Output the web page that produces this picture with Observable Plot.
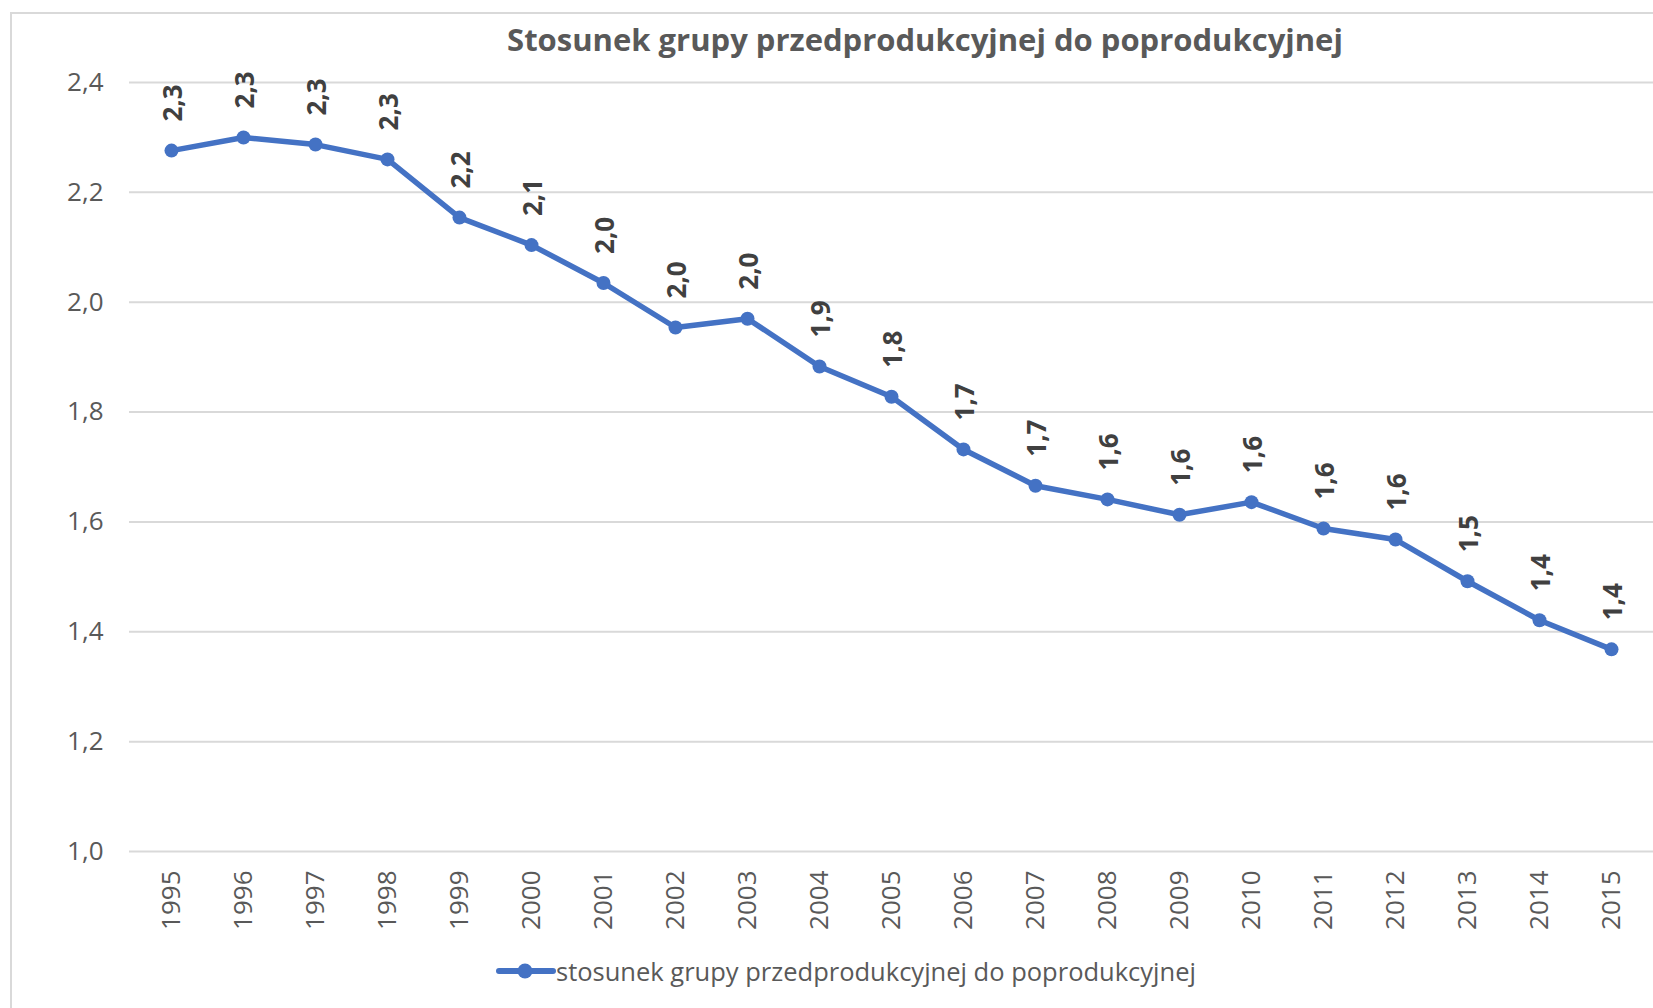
<!DOCTYPE html>
<html>
<head>
<meta charset="utf-8">
<script src="https://cdn.jsdelivr.net/npm/d3@7"></script>
<script src="https://cdn.jsdelivr.net/npm/@observablehq/plot@0.6"></script>
<style>
  html, body { margin: 0; padding: 0; background: #fff; overflow: hidden; width: 1653px; height: 1008px; }
  #frame { position: absolute; left: 10px; top: 12px; width: 1700px; height: 1100px;
           border-left: 2px solid #d9d9d9; border-top: 2px solid #d9d9d9; box-sizing: border-box; }
  #title { position: absolute; left: 0; top: 18px; width: 1850px; text-align: center; line-height: 42px;
           font-family: "Open Sans", sans-serif; font-weight: bold; font-size: 31px; color: #595959; }
  #chart { position: absolute; left: 0; top: 60px; }
  #legend { position: absolute; left: 496px; top: 952px; height: 38px; display: flex; align-items: center;
            font-family: "Open Sans", sans-serif; font-size: 25.5px; color: #595959; }
</style>
</head>
<body>
<div id="frame"></div>
<div id="title">Stosunek grupy przedprodukcyjnej do poprodukcyjnej</div>
<div id="chart"></div>
<div id="legend"></div>
<script>
const years = ["1995","1996","1997","1998","1999","2000","2001","2002","2003","2004","2005",
               "2006","2007","2008","2009","2010","2011","2012","2013","2014","2015"];
const values = [2.276, 2.300, 2.287, 2.260, 2.154, 2.104, 2.035, 1.954, 1.970, 1.883, 1.828,
                1.732, 1.666, 1.641, 1.613, 1.636, 1.588, 1.568, 1.492, 1.421, 1.368];
const yTicks = [1.0, 1.2, 1.4, 1.6, 1.8, 2.0, 2.2, 2.4];
const seriesName = "stosunek grupy przedprodukcyjnej do poprodukcyjnej";
const lineColor = "#4472C4";

const data = years.map((y, i) => ({year: y, value: values[i]}));
const comma = v => d3.format(".1f")(v).replace(".", ",");

const chart = Plot.plot({
  width: 1653,
  height: 881,
  marginLeft: 129,
  marginRight: 0,
  marginTop: 22,
  marginBottom: 90,
  style: {fontFamily: "'Open Sans', sans-serif", fontSize: "26px", color: "#595959", background: "transparent"},
  x: {type: "band", domain: years, padding: 0},
  y: {domain: [1.0, 2.4]},
  marks: [
    Plot.ruleY(yTicks, {stroke: "#d9d9d9", strokeWidth: 2, strokeOpacity: 1}),
    Plot.axisY(yTicks, {tickSize: 0, tickPadding: 26, tickFormat: comma, fill: "#595959", fontSize: 26, label: null}),
    Plot.axisX({tickSize: 0, tickPadding: 19, tickRotate: -90, fill: "#595959", fontSize: 26, label: null}),
    Plot.line(data, {x: "year", y: "value", stroke: lineColor, strokeWidth: 5.5}),
    Plot.dot(data, {x: "year", y: "value", r: 7, fill: lineColor, stroke: "none"}),
    Plot.text(data, {x: "year", y: "value", text: d => comma(d.value), rotate: -90, textAnchor: "start",
                     lineAnchor: "middle", dy: -29, dx: 2, fontWeight: "bold", fill: "#404040", fontSize: 26})
  ]
});
document.getElementById("chart").appendChild(chart);

const leg = document.getElementById("legend");
leg.innerHTML = `<svg width="60" height="20"><line x1="3" y1="10" x2="57" y2="10" stroke="${lineColor}" stroke-width="6" stroke-linecap="round"/><circle cx="29" cy="10" r="7.5" fill="${lineColor}"/></svg><span>${seriesName}</span>`;
</script>
</body>
</html>
